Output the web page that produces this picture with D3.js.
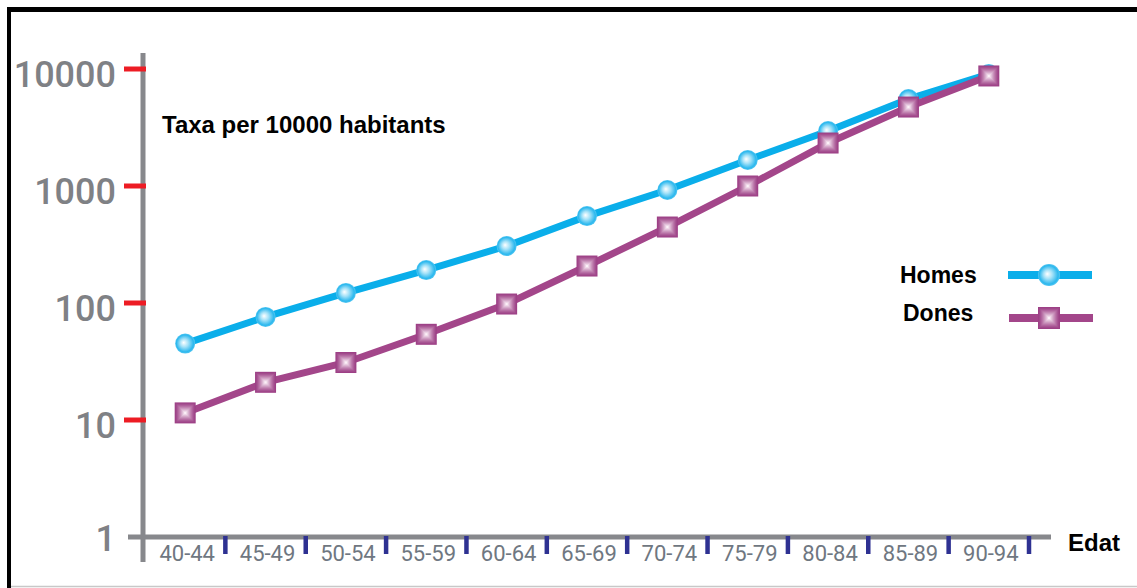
<!DOCTYPE html>
<html>
<head>
<meta charset="utf-8">
<script src="https://cdn.jsdelivr.net/npm/d3@7/dist/d3.min.js"></script>
<style>
  body { margin: 0; background: #fff; }
  svg { display: block; font-family: "Liberation Sans", Arial, sans-serif; }
  .num { font-family: Roboto, "Liberation Sans", sans-serif; }
</style>
</head>
<body>
<div class="mainContainer"></div>
<script>
// age groups and rates per 10000 inhabitants
const ages = ['40-44', '45-49', '50-54', '55-59', '60-64', '65-69', '70-74', '75-79', '80-84', '85-89', '90-94'];
const homes = [45, 76, 122, 191, 307, 553, 925, 1668, 2950, 5540, 9060];
const dones = [11.5, 21, 31, 54, 98, 207, 446, 1000, 2330, 4730, 8720];
const yTicks = [1, 10, 100, 1000, 10000];
const seriesNames = ['Homes', 'Dones'];

let width = 1137;
let height = 588;
const cyan = '#0aaeea';
const purple = '#a3468a';
const axisGray = '#87888c';

const svg = d3.select('.mainContainer')
  .append('svg')
  .attr('width', width)
  .attr('height', height);

const defs = svg.append('defs');
const grad = defs.append('radialGradient')
  .attr('id', 'ball')
  .attr('cx', '50%').attr('cy', '50%').attr('r', '50%')
  .attr('fx', '42%').attr('fy', '45%');
grad.append('stop').attr('offset', '0%').attr('stop-color', '#ffffff');
grad.append('stop').attr('offset', '40%').attr('stop-color', '#a6e2f8');
grad.append('stop').attr('offset', '85%').attr('stop-color', '#2cb8ee');
grad.append('stop').attr('offset', '100%').attr('stop-color', '#55c6f1');

// frame (right side is cut off in the original)
svg.append('line').attr('x1', 7).attr('x2', width).attr('y1', 9.5).attr('y2', 9.5)
  .attr('stroke', '#000').attr('stroke-width', 5);
svg.append('line').attr('x1', 9).attr('x2', 9).attr('y1', 7).attr('y2', height)
  .attr('stroke', '#000').attr('stroke-width', 4);
svg.append('line').attr('x1', 11).attr('x2', width).attr('y1', 586.5).attr('y2', 586.5)
  .attr('stroke', '#c8c8c8').attr('stroke-width', 1.5);

const x = d3.scaleBand().domain(ages).range([145, 1029]).padding(0);
const y = d3.scaleLog().domain([1, 10000]).range([537, 69]);
const cx = (d) => x(d) + x.bandwidth() / 2;

// axes
svg.append('line').attr('x1', 143).attr('x2', 143).attr('y1', 53).attr('y2', 562)
  .attr('stroke', axisGray).attr('stroke-width', 5);
svg.append('line').attr('x1', 128).attr('x2', 1051).attr('y1', y(1)).attr('y2', y(1))
  .attr('stroke', axisGray).attr('stroke-width', 5);

svg.selectAll('.ytick')
  .data(yTicks.filter((d) => d > 1))
  .enter()
  .append('line')
  .attr('x1', 124).attr('x2', 146)
  .attr('y1', (d) => y(d)).attr('y2', (d) => y(d))
  .attr('stroke', '#ed1c24').attr('stroke-width', 5);

svg.selectAll('.ylabel')
  .data(yTicks)
  .enter()
  .append('text')
  .attr('class', 'num')
  .attr('x', 116)
  .attr('y', (d) => y(d) + (d === 1 ? 14 : 17.5))
  .attr('text-anchor', 'end')
  .style('font-size', '36px')
  .style('font-weight', 500)
  .attr('fill', '#7f8185')
  .text((d) => d);

svg.selectAll('.xtick')
  .data(ages)
  .enter()
  .append('line')
  .attr('x1', (d) => x(d) + x.bandwidth()).attr('x2', (d) => x(d) + x.bandwidth())
  .attr('y1', 536).attr('y2', 554)
  .attr('stroke', '#2e3192').attr('stroke-width', 4.5);

svg.selectAll('.xlabel')
  .data(ages)
  .enter()
  .append('text')
  .attr('class', 'num')
  .attr('x', (d) => cx(d) + 2)
  .attr('y', 561)
  .attr('text-anchor', 'middle')
  .style('font-size', '22px')
  .attr('fill', '#6f7781')
  .text((d) => d);

svg.append('text').attr('x', 1068).attr('y', 551)
  .style('font-size', '24px').style('font-weight', 'bold').text('Edat');
svg.append('text').attr('x', 162).attr('y', 133)
  .style('font-size', '24px').style('font-weight', 'bold').text('Taxa per 10000 habitants');

// markers
function drawBall(g, px, py, r) {
  g.append('circle').attr('cx', px).attr('cy', py).attr('r', r).attr('fill', 'url(#ball)');
}
function drawBox(g, px, py, s) {
  const steps = d3.range(10);
  const col = d3.interpolateRgb('#9d4086', '#fbf0f7');
  g.selectAll(null)
    .data(steps)
    .enter()
    .append('rect')
    .attr('x', (k) => px - s / 2 * (1 - k / 10))
    .attr('y', (k) => py - s / 2 * (1 - k / 10))
    .attr('width', (k) => s * (1 - k / 10))
    .attr('height', (k) => s * (1 - k / 10))
    .attr('fill', (k) => col(Math.pow(k / 9, 1.3)));
}

const line = d3.line().x((d, i) => cx(ages[i])).y((d) => y(d));

const gH = svg.append('g');
gH.append('path').datum(homes).attr('d', line)
  .attr('fill', 'none').attr('stroke', cyan).attr('stroke-width', 7);
homes.forEach((v, i) => drawBall(gH, cx(ages[i]), y(v), 10));

const gD = svg.append('g');
gD.append('path').datum(dones).attr('d', line)
  .attr('fill', 'none').attr('stroke', purple).attr('stroke-width', 7);
dones.forEach((v, i) => drawBox(gD, cx(ages[i]), y(v), 21));

// legend
const lg = svg.append('g');
lg.append('text').attr('x', 900).attr('y', 283)
  .style('font-size', '23px').style('font-weight', 'bold').text(seriesNames[0]);
lg.append('line').attr('x1', 1008).attr('x2', 1092).attr('y1', 275).attr('y2', 275)
  .attr('stroke', cyan).attr('stroke-width', 8);
drawBall(lg, 1049, 275, 11);
lg.append('text').attr('x', 903).attr('y', 321)
  .style('font-size', '23px').style('font-weight', 'bold').text(seriesNames[1]);
lg.append('line').attr('x1', 1009).attr('x2', 1093).attr('y1', 318).attr('y2', 318)
  .attr('stroke', purple).attr('stroke-width', 8);
drawBox(lg, 1049, 318, 22);
</script>
</body>
</html>
